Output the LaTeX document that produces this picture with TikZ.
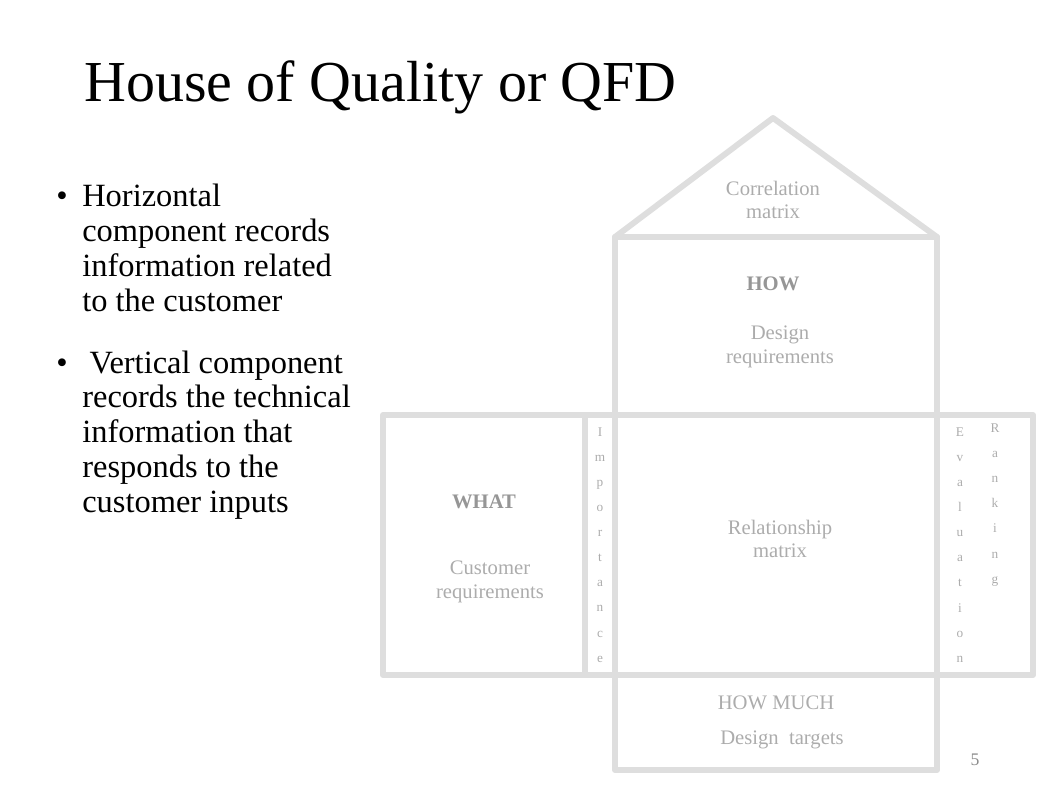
\documentclass[tikz,border=0pt]{standalone}
\usepackage{fontspec}
\setmainfont{Liberation Serif}
\usetikzlibrary{positioning}
\definecolor{houseline}{RGB}{222,222,222}
\definecolor{housetext}{RGB}{172,172,172}
\definecolor{housebold}{RGB}{150,150,150}
\definecolor{pagenum}{RGB}{140,140,140}

\begin{document}
\begin{tikzpicture}[x=0.678pt, y=-0.678pt,
    wall/.style={draw=houseline, line width=4pt, line join=round},
    label/.style={text=housetext, font=\fontsize{14}{16}\selectfont, align=center, inner sep=0pt},
    heading/.style={text=housebold, font=\bfseries\fontsize{14}{16}\selectfont, inner sep=0pt},
    stack/.style={text=housetext, font=\fontsize{9}{17}\selectfont, align=center, inner sep=0pt},
    bullettext/.style={anchor=base west, align=left, inner sep=0pt, font=\fontsize{22}{23.7}\selectfont}
]
    \useasboundingbox (0,0) rectangle (1062,797);

    % title and bullets
    \node[anchor=base west, inner sep=0pt, font=\fontsize{39.3}{47}\selectfont] (title) at (84,102) {House of Quality or QFD};

    \node[bullettext] (dot1) at (56,207) {\textbullet};
    \node[bullettext] (horiz) at (82,207) {Horizontal};
    \node[bullettext, below=23.7pt of horiz.base west, anchor=base west] (horiz2) {component records};
    \node[bullettext, below=23.7pt of horiz2.base west, anchor=base west] (horiz3) {information related};
    \node[bullettext, below=23.7pt of horiz3.base west, anchor=base west] (horiz4) {to the customer};

    \node[bullettext] (dot2) at (56,373) {\textbullet};
    \node[bullettext] (vert) at (82,373) {\hspace{5pt}Vertical component};
    \node[bullettext, below=23.7pt of vert.base west, anchor=base west] (vert2) {records the technical};
    \node[bullettext, below=23.7pt of vert2.base west, anchor=base west] (vert3) {information that};
    \node[bullettext, below=23.7pt of vert3.base west, anchor=base west] (vert4) {responds to the};
    \node[bullettext, below=23.7pt of vert4.base west, anchor=base west] (vert5) {customer inputs};

    % the house
    \coordinate (apex) at (773,118);
    \coordinate (roofL) at (615,237);
    \coordinate (roofR) at (937,237);
    \coordinate (midL) at (383,415);
    \coordinate (midR) at (1033,675);

    \draw[wall] (roofL) -- (apex) -- (roofR) -- cycle;
    \draw[wall] (roofL) rectangle (937,415);
    \draw[wall] (midL) rectangle (midR);
    \draw[wall] (585,415) -- (585,675);
    \draw[wall] (615,415) -- (615,675);
    \draw[wall] (937,415) -- (937,675);
    \draw[wall] (615,675) rectangle (937,770);

    \node[label] (corr) at (773,200) {Correlation\\matrix};
    \node[heading] (how) at (773,284) {HOW};
    \node[label] (design) at (780,347) {Design\\requirements};
    \node[heading] (what) at (484,502) {WHAT};
    \node[label] (cust) at (490,582) {Customer\\requirements};
    \node[label] (rel) at (780,539) {Relationship\\matrix};
    \node[label] (howmuch) at (776,703) {HOW MUCH};
    \node[label] (targets) at (782,740) {Design \ targets};

    \node[stack] (imp) at (600,545) {I\\m\\p\\o\\r\\t\\a\\n\\c\\e};
    \node[stack] (eval) at (960,545) {E\\v\\a\\l\\u\\a\\t\\i\\o\\n};
    \node[stack] (rank) at (995,505) {R\\a\\n\\k\\i\\n\\g};

    \node[anchor=base, inner sep=0pt, text=pagenum, font=\fontsize{12}{14}\selectfont] (page) at (975,765) {5};
\end{tikzpicture}
\end{document}
